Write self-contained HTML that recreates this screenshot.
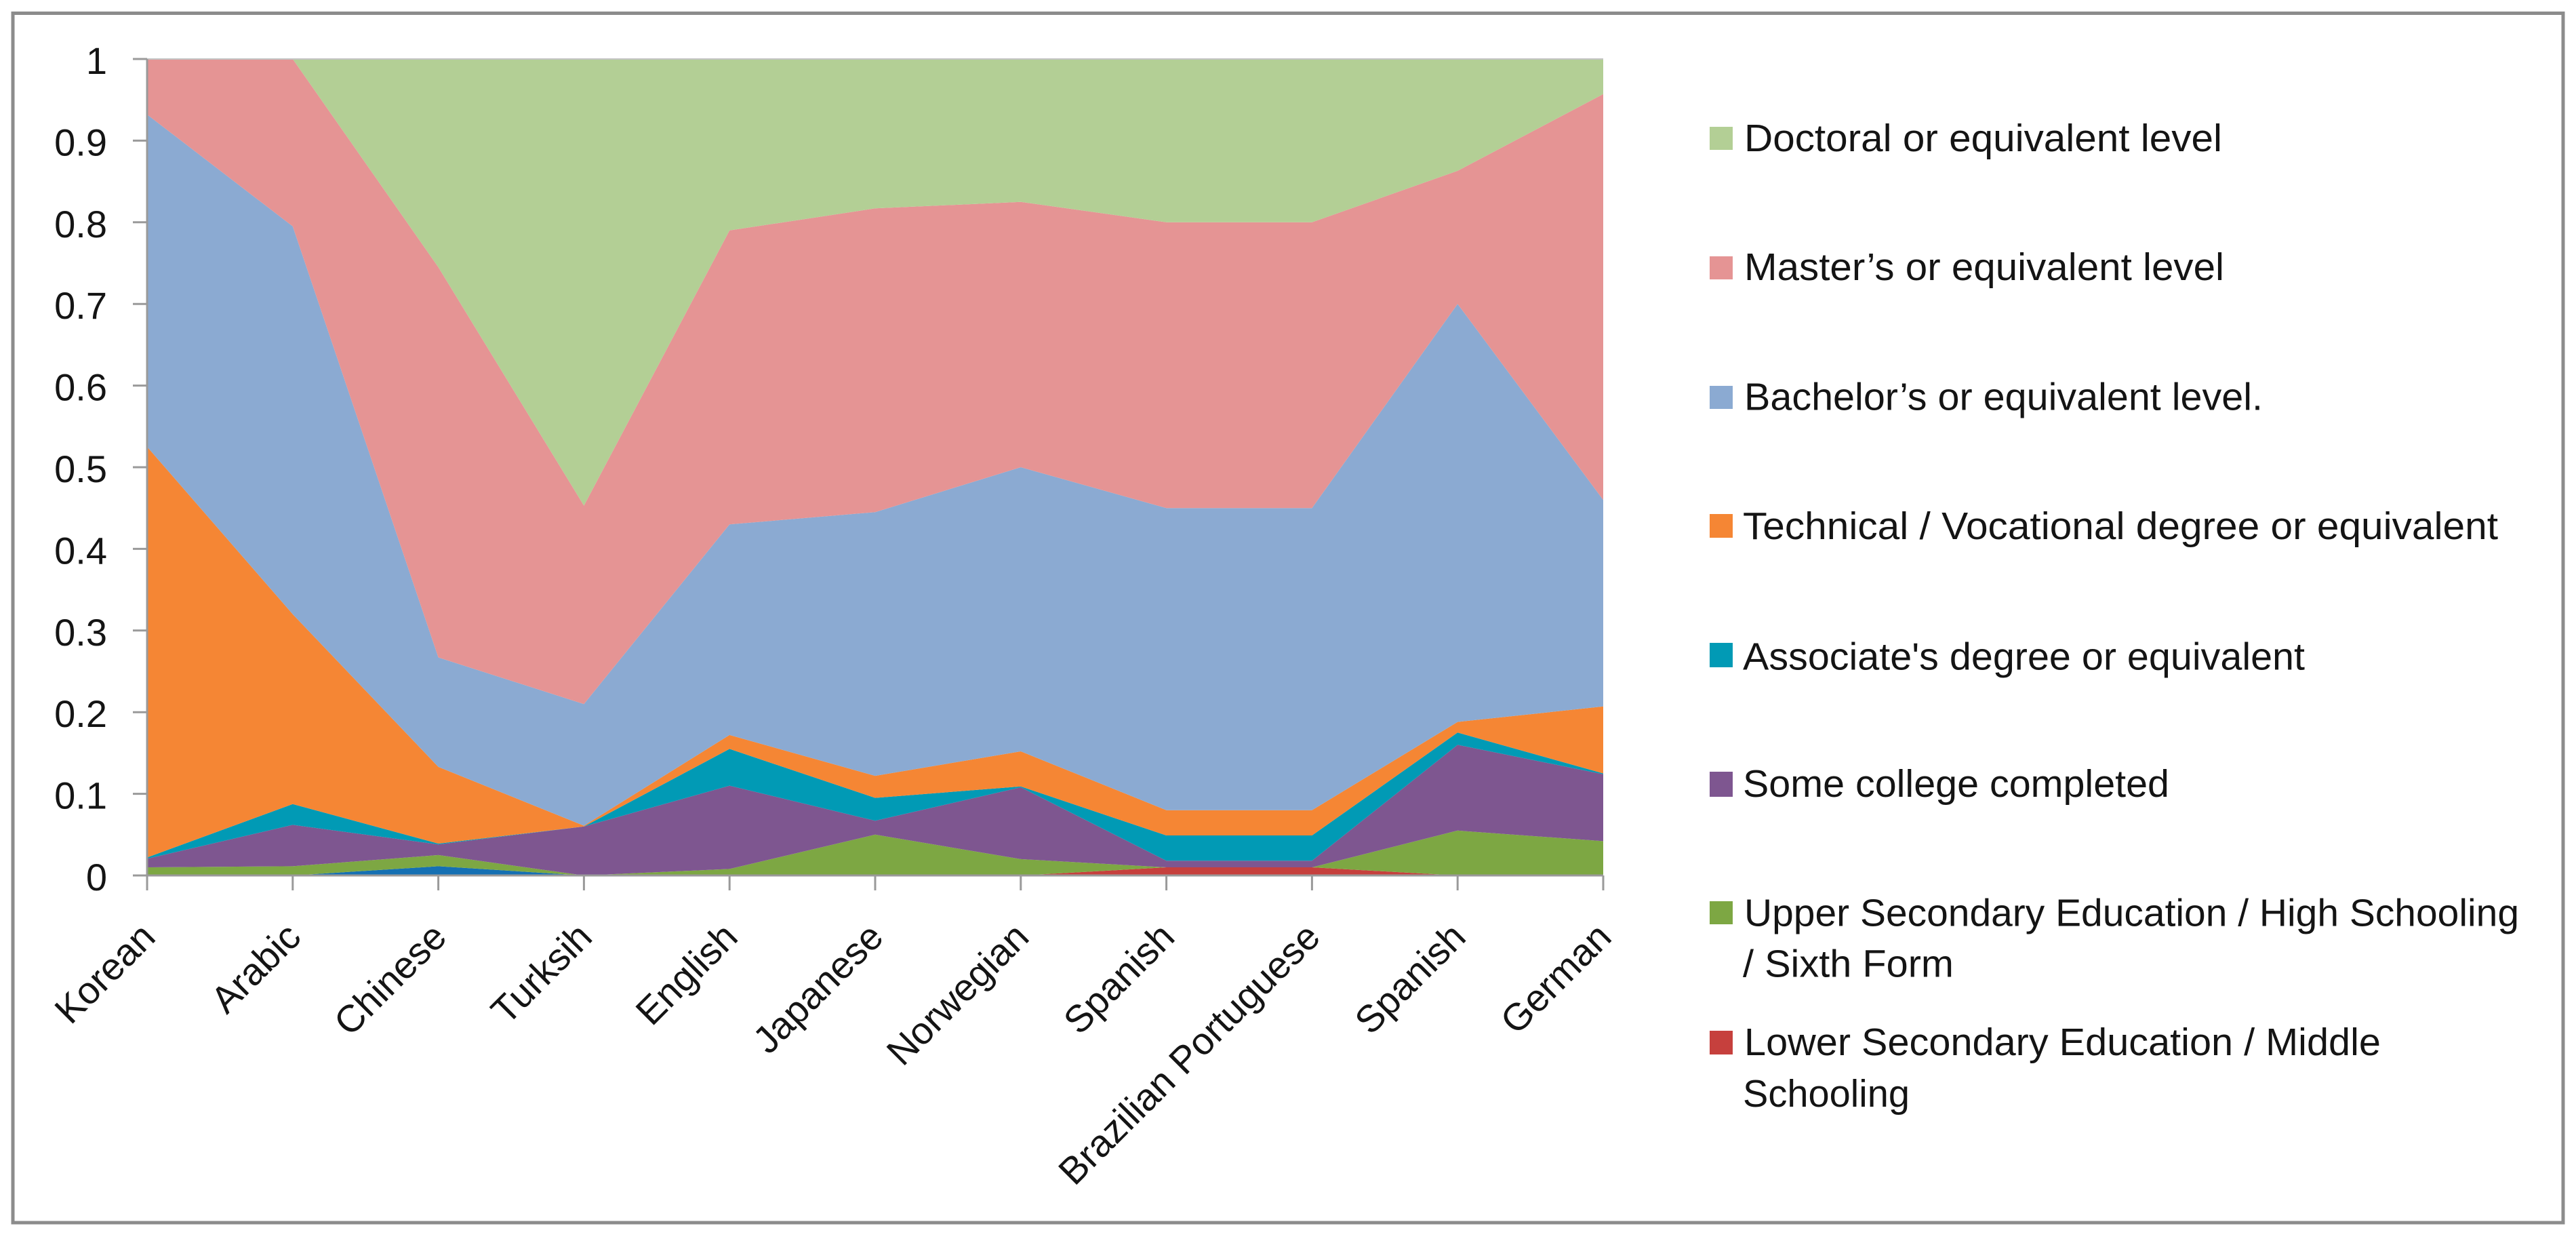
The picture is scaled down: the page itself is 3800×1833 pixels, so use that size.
<!DOCTYPE html>
<html lang="en">
<head>
<meta charset="utf-8">
<title>Education level by language</title>
<style>
html,body{margin:0;padding:0;background:#fff;width:3800px;height:1833px;overflow:hidden}
svg{display:block}
text{font-family:"Liberation Sans",sans-serif;fill:#141414}
</style>
</head>
<body>
<svg id="chart" xmlns="http://www.w3.org/2000/svg" width="3800" height="1833" viewBox="0 0 3800 1833">
  <rect x="0" y="0" width="3800" height="1833" fill="#ffffff"/>
  <rect x="19" y="19.5" width="3762" height="1783.5" fill="#ffffff" stroke="#8c8c8c" stroke-width="5"/>
  <g id="areas"></g>
  <g id="axes"></g>
  <g id="legend" font-size="57">
    <g>
      <rect x="2522" y="187" width="34" height="34" fill="#b3cf95"/>
      <text x="2573" y="223" textLength="705" lengthAdjust="spacingAndGlyphs">Doctoral or equivalent level</text>
    </g>
    <g>
      <rect x="2522" y="378" width="34" height="34" fill="#e59494"/>
      <text x="2573" y="413" textLength="708" lengthAdjust="spacingAndGlyphs">Master’s or equivalent level</text>
    </g>
    <g>
      <rect x="2522" y="569" width="34" height="34" fill="#8baad2"/>
      <text x="2573" y="604.5" textLength="765" lengthAdjust="spacingAndGlyphs">Bachelor’s or equivalent level.</text>
    </g>
    <g>
      <rect x="2522" y="758" width="34" height="35" fill="#f58634"/>
      <text x="2571" y="795" textLength="1114" lengthAdjust="spacingAndGlyphs">Technical / Vocational degree or equivalent</text>
    </g>
    <g>
      <rect x="2522" y="948" width="34" height="36" fill="#019ab5"/>
      <text x="2571" y="987.5" textLength="829" lengthAdjust="spacingAndGlyphs">Associate's degree or equivalent</text>
    </g>
    <g>
      <rect x="2522" y="1138" width="34" height="37" fill="#7e5690"/>
      <text x="2571" y="1175" textLength="629" lengthAdjust="spacingAndGlyphs">Some college completed</text>
    </g>
    <g>
      <rect x="2522" y="1329" width="34" height="34" fill="#7da743"/>
      <text x="2573" y="1365.5" textLength="1143" lengthAdjust="spacingAndGlyphs">Upper Secondary Education / High Schooling</text>
      <text x="2571" y="1440.5" textLength="311" lengthAdjust="spacingAndGlyphs">/ Sixth Form</text>
    </g>
    <g>
      <rect x="2522" y="1520" width="34" height="35" fill="#c6403d"/>
      <text x="2573" y="1556" textLength="939" lengthAdjust="spacingAndGlyphs">Lower Secondary Education / Middle</text>
      <text x="2571" y="1632" textLength="246" lengthAdjust="spacingAndGlyphs">Schooling</text>
    </g>
  </g>
</svg>
<script>
// ---- chart data ----
const categories = ['Korean','Arabic','Chinese','Turksih','English','Japanese','Norwegian','Spanish','Brazilian Portuguese','Spanish','German'];
const yTickLabels = ['0','0.1','0.2','0.3','0.4','0.5','0.6','0.7','0.8','0.9','1'];

// share per level, bottom of the stack first
const primaryEducation   = [0,0,0.0113,0,0,0,0,0,0,0,0];
const lowerSecondary     = [0,0,0,0,0,0,0,0.01,0.01,0,0];
const upperSecondary     = [0.01,0.0113,0.0137,0,0.008,0.05,0.02,0,0,0.055,0.042];
const someCollege        = [0.0105,0.0507,0.013,0.06,0.102,0.017,0.088,0.008,0.008,0.105,0.082];
const associateDegree    = [0.0015,0.0255,0.001,0,0.045,0.028,0.001,0.031,0.031,0.015,0.001];
const technicalDegree    = [0.503,0.2325,0.094,0.001,0.017,0.027,0.043,0.031,0.031,0.013,0.082];
const bachelorsDegree    = [0.407,0.475,0.134,0.149,0.258,0.323,0.348,0.37,0.37,0.512,0.253];
const mastersDegree      = [0.068,0.205,0.478,0.243,0.36,0.372,0.325,0.35,0.35,0.163,0.497];
const doctoralDegree     = [0,0,0.255,0.547,0.21,0.183,0.175,0.2,0.2,0.137,0.043];

const seriesStack = [
  ['primary', primaryEducation, '#1570b3'],
  ['lower-secondary', lowerSecondary, '#c6403d'],
  ['upper-secondary', upperSecondary, '#7da743'],
  ['some-college', someCollege, '#7e5690'],
  ['associate', associateDegree, '#019ab5'],
  ['technical', technicalDegree, '#f58634'],
  ['bachelors', bachelorsDegree, '#8baad2'],
  ['masters', mastersDegree, '#e59494'],
  ['doctoral', doctoralDegree, '#b3cf95']
];

// ---- axis functions ----
const SVGNS = 'http://www.w3.org/2000/svg';
const plotLeft = 217, plotRight = 2365, plotTop = 87, plotBottom = 1291;
function xScale(i){ return plotLeft + i * (plotRight - plotLeft) / (categories.length - 1); }
function yScale(v){ return plotBottom - v * (plotBottom - plotTop); }

// ---- areas ----
const areasGroup = document.getElementById('areas');
let baseline = categories.map(function(){ return 0; });
seriesStack.forEach(function(s){
  const values = s[1];
  const top = values.map(function(v, i){ return baseline[i] + v; });
  const pts = [];
  top.forEach(function(v, i){ pts.push(xScale(i).toFixed(1) + ',' + yScale(v).toFixed(1)); });
  for (let i = baseline.length - 1; i >= 0; i--) {
    pts.push(xScale(i).toFixed(1) + ',' + yScale(baseline[i]).toFixed(1));
  }
  const poly = document.createElementNS(SVGNS, 'polygon');
  poly.setAttribute('points', pts.join(' '));
  poly.setAttribute('fill', s[2]);
  
  
  areasGroup.appendChild(poly);
  baseline = top;
});

// ---- axes ----
const axesGroup = document.getElementById('axes');
function makeLine(x1, y1, x2, y2, color, width, name){
  const ln = document.createElementNS(SVGNS, 'line');
  ln.setAttribute('x1', x1);
  ln.setAttribute('y1', y1);
  ln.setAttribute('x2', x2);
  ln.setAttribute('y2', y2);
  ln.setAttribute('stroke', color);
  ln.setAttribute('stroke-width', width);
  
  
  axesGroup.appendChild(ln);
}
makeLine(plotLeft, plotTop, plotRight, plotTop, '#c4c4c4', 2, 'plot-top-line');
makeLine(plotLeft, plotTop, plotLeft, plotBottom, '#9a9a9a', 3, 'y-axis-line');
makeLine(plotLeft, plotBottom, plotRight, plotBottom, '#9a9a9a', 3, 'x-axis-line');

yTickLabels.forEach(function(label){
  const v = parseFloat(label);
  const y = yScale(v);
  makeLine(196, y, plotLeft, y, '#9a9a9a', 3, 'y-tick-' + label);
  const t = document.createElementNS(SVGNS, 'text');
  t.setAttribute('x', 158);
  t.setAttribute('y', y + 22);
  t.setAttribute('text-anchor', 'end');
  t.setAttribute('font-size', '56');
  
  
  t.textContent = label;
  axesGroup.appendChild(t);
});

categories.forEach(function(name, i){
  const x = xScale(i);
  makeLine(x, plotBottom, x, plotBottom + 22, '#9a9a9a', 3, 'x-tick-' + i);
  const t = document.createElementNS(SVGNS, 'text');
  t.setAttribute('text-anchor', 'end');
  t.setAttribute('font-size', '56');
  t.setAttribute('transform', 'translate(' + (x + 15) + ' 1385) rotate(-45)');
  
  
  t.textContent = name;
  axesGroup.appendChild(t);
});
</script>
</body>
</html>
